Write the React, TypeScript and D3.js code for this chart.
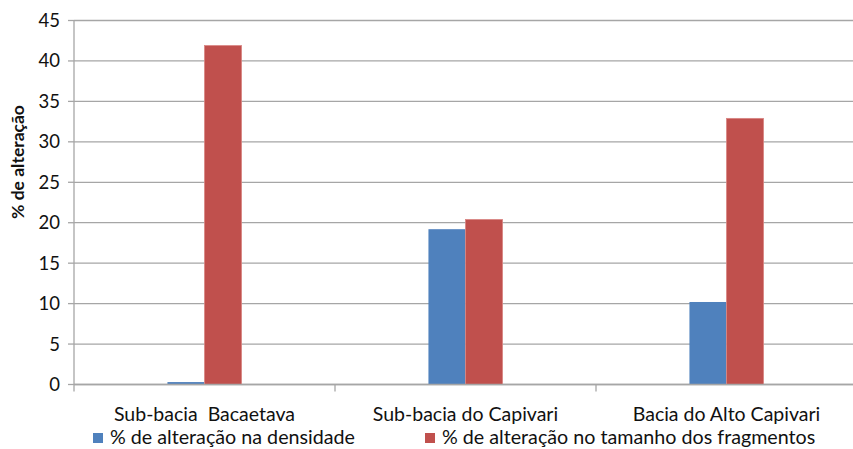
import React from "react";
import * as d3 from "d3";

const categories = ["Sub-bacia  Bacaetava", "Sub-bacia do Capivari", "Bacia do Alto Capivari"];
const seriesNames = ["% de alteração na densidade", "% de alteração no tamanho dos fragmentos"];
const densidade = [0.3, 19.2, 10.2];
const tamanho = [41.9, 20.4, 32.9];
const yTicks = [0, 5, 10, 15, 20, 25, 30, 35, 40, 45];
const colors = ["#4F81BD", "#C0504D"];

const W = 853;
const H = 449;
const left = 74;
const right = 857;
const top = 20.5;
const bottom = 384.5;
const font = "Lato, 'Open Sans', sans-serif";

export default function App() {
  const x0 = d3.scaleBand<string>().domain(categories).range([left, right]).padding(0);
  const groupW = x0.bandwidth() * 0.284;
  const x1 = d3.scaleBand<number>().domain([0, 1]).range([0, groupW]).padding(0);
  const y = d3.scaleLinear().domain([0, 45]).range([bottom, top]);
  const series = [densidade, tamanho];

  return (
    <svg width={W} height={H} style={{ position: "absolute", left: 0, top: 0, background: "#fff" }}>
      {/* gridlines */}
      {yTicks.map((t) => (
        <line key={"g" + t} x1={left} x2={right} y1={y(t)} y2={y(t)} stroke="#A6A6A6" strokeWidth={1.3} />
      ))}
      {/* y axis */}
      <line x1={left} x2={left} y1={top} y2={bottom} stroke="#A6A6A6" strokeWidth={1.3} />
      {yTicks.map((t) => (
        <g key={"t" + t}>
          <line x1={left - 6} x2={left} y1={y(t)} y2={y(t)} stroke="#A6A6A6" strokeWidth={1.3} />
          <text x={left - 14} y={y(t)} dy="0.35em" textAnchor="end" fontFamily={font} fontSize={18.5} fill="#111">
            {t}
          </text>
        </g>
      ))}
      {/* bars */}
      {categories.map((c, i) => {
        const gx = (x0(c) as number) + x0.bandwidth() / 2 - groupW / 2;
        return series.map((s, k) => (
          <rect
            key={c + k}
            x={gx + (x1(k) as number)}
            y={y(s[i])}
            width={x1.bandwidth()}
            height={bottom - y(s[i])}
            fill={colors[k]}
            stroke={k === 1 ? "#D98583" : "none"}
            strokeWidth={0.8}
          />
        ));
      })}
      {/* x axis */}
      <line x1={left} x2={right} y1={bottom} y2={bottom} stroke="#A6A6A6" strokeWidth={1.3} />
      {categories.map((c) => (
        <line key={"xt" + c} x1={x0(c) as number} x2={x0(c) as number} y1={bottom} y2={bottom + 7} stroke="#A6A6A6" strokeWidth={1.3} />
      ))}
      {categories.map((c) => (
        <text
          key={"xl" + c}
          x={(x0(c) as number) + x0.bandwidth() / 2}
          y={421}
          textAnchor="middle"
          fontFamily={font}
          fontSize={19.5}
          fill="#111"
          style={{ whiteSpace: "pre" }}
        >
          {c}
        </text>
      ))}
      {/* y label */}
      <text
        transform={`translate(24,162) rotate(-90)`}
        textAnchor="middle"
        fontFamily={font}
        fontSize={17.5}
        fontWeight="bold"
        fill="#111"
      >
        % de alteração
      </text>
      {/* legend */}
      {[93, 425].map((lx, k) => (
        <g key={"lg" + k}>
          <rect x={lx} y={433} width={10} height={10} fill={colors[k]} />
          <text x={lx + 17} y={444} fontFamily={font} fontSize={19.7} fill="#111">
            {seriesNames[k]}
          </text>
        </g>
      ))}
    </svg>
  );
}
